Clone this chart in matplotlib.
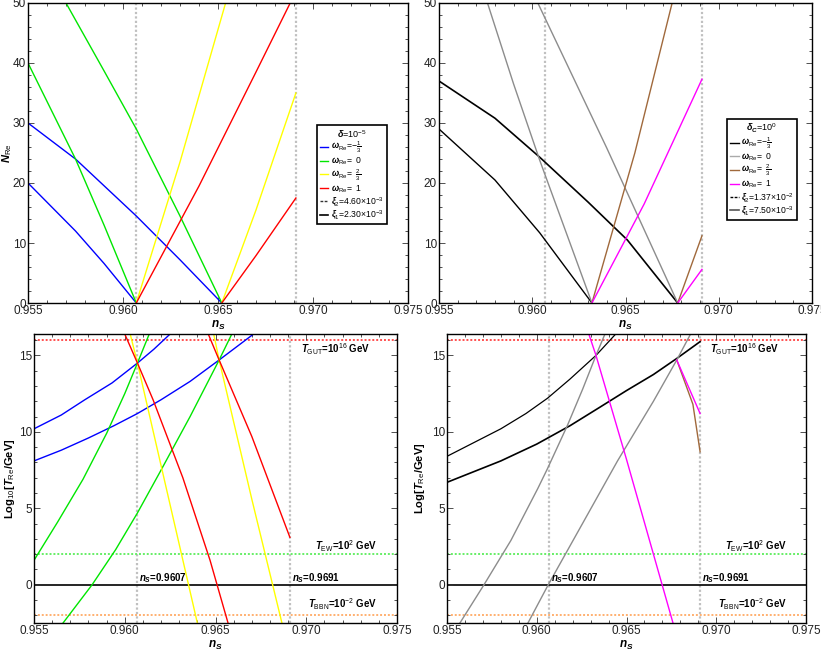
import matplotlib
matplotlib.use("Agg")
import matplotlib.pyplot as plt
from matplotlib.lines import Line2D
from matplotlib.ticker import MultipleLocator, FixedLocator

plt.rcParams['font.family'] = ['Liberation Sans', 'DejaVu Sans']
plt.rcParams['mathtext.fontset'] = 'custom'
plt.rcParams['mathtext.rm'] = 'Liberation Sans'
plt.rcParams['mathtext.it'] = 'Liberation Sans:italic:bold'
plt.rcParams['mathtext.bf'] = 'Liberation Sans:bold'

# ---------------- data ----------------
ns_lines = [0.9607, 0.9691]

# top-left: N_Re, delta = 1e-5
tl_blue1_x = [0.9550, 0.9575, 0.9607, 0.9630, 0.9652]
tl_blue1_y = [30.0, 24.0, 14.5, 7.2, 0.0]
tl_blue2_x = [0.9550, 0.9575, 0.9590, 0.9607]
tl_blue2_y = [20.0, 12.0, 6.6, 0.0]
tl_green1_x = [0.9550, 0.9575, 0.9590, 0.9607]
tl_green1_y = [40.0, 24.0, 13.0, 0.0]
tl_green2_x = [0.9570, 0.9590, 0.9607, 0.9630, 0.9652]
tl_green2_y = [50.0, 38.7, 29.0, 14.5, 0.0]
tl_yellow1_x = [0.9607, 0.9630, 0.9654]
tl_yellow1_y = [0.0, 23.5, 50.0]
tl_yellow2_x = [0.9652, 0.9670, 0.9691]
tl_yellow2_y = [0.0, 15.5, 35.0]
tl_red1_x = [0.9607, 0.9640, 0.9670, 0.9688]
tl_red1_y = [0.0, 19.5, 38.5, 50.0]
tl_red2_x = [0.9652, 0.9670, 0.9691]
tl_red2_y = [0.0, 7.9, 17.5]

# top-right: N_Re, delta_C = 1
tr_black1_x = [0.9550, 0.9580, 0.9604, 0.9630, 0.9651, 0.9678]
tr_black1_y = [37.0, 30.8, 24.3, 16.8, 10.5, 0.0]
tr_black2_x = [0.9550, 0.9580, 0.9604, 0.9632]
tr_black2_y = [29.0, 20.5, 11.7, 0.0]
tr_gray1_x = [0.9603, 0.9640, 0.9678]
tr_gray1_y = [50.0, 25.8, 0.0]
tr_gray2_x = [0.9576, 0.9590, 0.9604, 0.9632]
tr_gray2_y = [50.0, 36.5, 23.8, 0.0]
tr_brown1_x = [0.9632, 0.9655, 0.9675]
tr_brown1_y = [0.0, 25.0, 50.0]
tr_brown2_x = [0.9678, 0.9691]
tr_brown2_y = [0.0, 11.2]
tr_magenta1_x = [0.9632, 0.9660, 0.9691]
tr_magenta1_y = [0.0, 16.5, 37.3]
tr_magenta2_x = [0.9678, 0.9691]
tr_magenta2_y = [0.0, 5.6]

# bottom-left: log10 T_Re
bl_blue1_x = [0.9550, 0.9565, 0.9578, 0.9593, 0.9607, 0.9616, 0.9625]
bl_blue1_y = [10.2, 11.1, 12.1, 13.2, 14.5, 15.4, 16.4]
bl_blue2_x = [0.9550, 0.9565, 0.9580, 0.9594, 0.9607, 0.9620, 0.9636, 0.9652, 0.9671]
bl_blue2_y = [8.1, 8.8, 9.6, 10.4, 11.2, 12.1, 13.3, 14.7, 16.4]
bl_green1_x = [0.9550, 0.9563, 0.9577, 0.9590, 0.9600, 0.9607, 0.96135]
bl_green1_y = [1.6, 4.1, 6.9, 9.9, 12.5, 14.5, 16.4]
bl_green2_x = [0.9566, 0.9582, 0.9595, 0.9607, 0.9620, 0.9636, 0.9652, 0.9659]
bl_green2_y = [-2.5, 0.0, 2.3, 4.7, 7.5, 11.0, 14.7, 16.4]
bl_yellow1_x = [0.9603, 0.9607, 0.9620, 0.9640]
bl_yellow1_y = [16.4, 14.5, 7.8, -2.5]
bl_yellow2_x = [0.9649, 0.9652, 0.9670, 0.96866]
bl_yellow2_y = [16.4, 14.7, 5.6, -2.5]
bl_red1_x = [0.9600, 0.9607, 0.96156, 0.9632, 0.9647, 0.96569]
bl_red1_y = [16.4, 14.5, 12.1, 7.0, 1.6, -2.5]
bl_red2_x = [0.9646, 0.9652, 0.9670, 0.9691]
bl_red2_y = [16.4, 14.7, 9.7, 3.1]

# bottom-right: log T_Re
br_black1_x = [0.9550, 0.9565, 0.9580, 0.9594, 0.9606, 0.96185, 0.9633, 0.9644]
br_black1_y = [8.4, 9.3, 10.2, 11.2, 12.2, 13.45, 15.0, 16.4]
br_black2_x = [0.9550, 0.9565, 0.9580, 0.9600, 0.96185, 0.9635, 0.9650, 0.9665, 0.9678, 0.9691]
br_black2_y = [6.7, 7.4, 8.1, 9.2, 10.4, 11.6, 12.7, 13.75, 14.8, 15.9]
br_gray1_x = [0.95572, 0.95706, 0.95856, 0.96006, 0.9606, 0.9617, 0.96256, 0.9633, 0.9638]
br_gray1_y = [-2.5, 0.0, 2.9, 6.3, 7.6, 10.4, 12.8, 15.0, 16.4]
br_gray2_x = [0.95951, 0.96064, 0.9625, 0.9645, 0.9665, 0.9678, 0.96857]
br_gray2_y = [-2.5, 0.0, 3.9, 8.1, 12.0, 14.7, 16.4]
br_brown2_x = [0.9678, 0.9687, 0.9691]
br_brown2_y = [14.7, 11.8, 8.7]
br_magenta1_x = [0.9629, 0.9633, 0.9650, 0.96759]
br_magenta1_y = [16.4, 15.0, 8.2, -2.5]
br_magenta2_x = [0.9678, 0.9691]
br_magenta2_y = [14.7, 11.2]

omega_labels = [r'$\omega_{\rm Re}$=$-\frac{1}{3}$', r'$\omega_{\rm Re}$=  0',
                r'$\omega_{\rm Re}$=  $\frac{2}{3}$', r'$\omega_{\rm Re}$=  1']
xi_left = [r'$\xi_2$=4.60$\times$10$^{-3}$', r'$\xi_1$=2.30$\times$10$^{-3}$']
xi_right = [r'$\xi_2$=1.37$\times$10$^{-2}$', r'$\xi_1$=7.50$\times$10$^{-3}$']

# ---------------- styling ----------------
C_BLUE, C_GREEN, C_YELLOW, C_RED = '#0000ff', '#00e600', '#ffff00', '#ff0000'
C_BLACK, C_GRAY, C_BROWN, C_MAG = '#000000', '#8c8c8c', '#a0693c', '#ff00ff'

fig = plt.figure(figsize=(8.21, 6.53), dpi=100)
W, H = 821, 653
def rect(l, r, t, b):
    return [l / W, 1 - b / H, (r - l) / W, (b - t) / H]

ax_tl = fig.add_axes(rect(28, 408, 3, 303))
ax_tr = fig.add_axes(rect(439, 812, 3, 303))
ax_bl = fig.add_axes(rect(34, 397, 334, 623))
ax_br = fig.add_axes(rect(447, 806, 334, 623))

lw = 1.0

def frame(ax, top):
    ax.set_xlim(0.955, 0.975)
    ax.xaxis.set_major_locator(FixedLocator([0.955, 0.960, 0.965, 0.970, 0.975]))
    ax.xaxis.set_minor_locator(MultipleLocator(0.001))
    ax.set_xticklabels(['0.955', '0.960', '0.965', '0.970', '0.975'])
    if top:
        ax.set_ylim(0, 50)
        ax.yaxis.set_major_locator(MultipleLocator(10))
        ax.yaxis.set_minor_locator(MultipleLocator(2))
    else:
        ax.set_ylim(-2.5, 16.4)
        ax.yaxis.set_major_locator(FixedLocator([0, 5, 10, 15]))
        ax.yaxis.set_minor_locator(MultipleLocator(1))
    ax.tick_params(which='both', direction='in', top=True, right=True, labelsize=8.5,
                   colors='#333333', labelcolor='#222222', width=0.6, pad=1.5)
    ax.tick_params(which='major', length=4)
    ax.tick_params(which='minor', length=2)
    for s in ax.spines.values():
        s.set_linewidth(1.0)
    ax.set_xlabel(r'$n_S$', fontsize=8.5, labelpad=1)
    for x in ns_lines:
        ax.axvline(x, color='#c0c0c0', ls=(0, (1, 1)), lw=1.6, zorder=1)

for ax in (ax_tl, ax_tr, ax_bl, ax_br):
    frame(ax, ax in (ax_tl, ax_tr))

# top-left
ax_tl.plot(tl_blue1_x, tl_blue1_y, color=C_BLUE, lw=lw)
ax_tl.plot(tl_blue2_x, tl_blue2_y, color=C_BLUE, lw=lw)
ax_tl.plot(tl_green1_x, tl_green1_y, color=C_GREEN, lw=lw)
ax_tl.plot(tl_green2_x, tl_green2_y, color=C_GREEN, lw=lw)
ax_tl.plot(tl_yellow1_x, tl_yellow1_y, color=C_YELLOW, lw=lw)
ax_tl.plot(tl_yellow2_x, tl_yellow2_y, color=C_YELLOW, lw=lw)
ax_tl.plot(tl_red1_x, tl_red1_y, color=C_RED, lw=lw)
ax_tl.plot(tl_red2_x, tl_red2_y, color=C_RED, lw=lw)
ax_tl.set_ylabel(r'$N_{\rm Re}$', fontsize=8)
ax_tl.yaxis.set_label_coords(-0.038, 0.5)

# top-right
ax_tr.plot(tr_black1_x, tr_black1_y, color=C_BLACK, lw=1.2)
ax_tr.plot(tr_black2_x, tr_black2_y, color=C_BLACK, lw=1.0)
ax_tr.plot(tr_gray1_x, tr_gray1_y, color=C_GRAY, lw=lw)
ax_tr.plot(tr_gray2_x, tr_gray2_y, color=C_GRAY, lw=lw)
ax_tr.plot(tr_brown1_x, tr_brown1_y, color=C_BROWN, lw=lw)
ax_tr.plot(tr_brown2_x, tr_brown2_y, color=C_BROWN, lw=lw)
ax_tr.plot(tr_magenta1_x, tr_magenta1_y, color=C_MAG, lw=lw)
ax_tr.plot(tr_magenta2_x, tr_magenta2_y, color=C_MAG, lw=lw)

# bottom panels
def hlines(ax):
    ax.axhline(16, color='#ff5050', ls=(0, (1, 1)), lw=1.4, zorder=1)
    ax.axhline(2, color='#66ee66', ls=(0, (1, 1)), lw=1.4, zorder=1)
    ax.axhline(0, color='black', lw=1.2, zorder=1)
    ax.axhline(-2, color='#ffb070', ls=(0, (1, 1)), lw=1.4, zorder=1)
    kw = dict(fontsize=7, fontweight='bold', va='center')
    ax.text(0.9716, 15.4, r'$T_{\rm GUT}$=10$^{16}$ GeV', ha='center', **kw)
    ax.text(0.9722, 2.55, r'$T_{\rm EW}$=10$^{2}$ GeV', ha='center', **kw)
    ax.text(0.9720, -1.25, r'$T_{\rm BBN}$=10$^{-2}$ GeV', ha='center', **kw)
    ax.text(0.9608, 0.45, r'$n_S$=0.9607', ha='left', **kw)
    ax.text(0.9692, 0.45, r'$n_S$=0.9691', ha='left', **kw)

hlines(ax_bl)
hlines(ax_br)

ax_bl.plot(bl_blue1_x, bl_blue1_y, color=C_BLUE, lw=lw)
ax_bl.plot(bl_blue2_x, bl_blue2_y, color=C_BLUE, lw=lw)
ax_bl.plot(bl_green1_x, bl_green1_y, color=C_GREEN, lw=lw)
ax_bl.plot(bl_green2_x, bl_green2_y, color=C_GREEN, lw=lw)
ax_bl.plot(bl_yellow1_x, bl_yellow1_y, color=C_YELLOW, lw=lw)
ax_bl.plot(bl_yellow2_x, bl_yellow2_y, color=C_YELLOW, lw=lw)
ax_bl.plot(bl_red1_x, bl_red1_y, color=C_RED, lw=lw)
ax_bl.plot(bl_red2_x, bl_red2_y, color=C_RED, lw=lw)
ax_bl.set_ylabel(r'Log$_{10}$[$T_{\rm Re}$/GeV]', fontsize=8, fontweight='bold')
ax_bl.yaxis.set_label_coords(-0.047, 0.5)

ax_br.plot(br_black1_x, br_black1_y, color=C_BLACK, lw=0.9)
ax_br.plot(br_black2_x, br_black2_y, color=C_BLACK, lw=1.2)
ax_br.plot(br_gray1_x, br_gray1_y, color=C_GRAY, lw=lw)
ax_br.plot(br_gray2_x, br_gray2_y, color=C_GRAY, lw=lw)
ax_br.plot(br_brown2_x, br_brown2_y, color=C_BROWN, lw=lw)
ax_br.plot(br_magenta1_x, br_magenta1_y, color=C_MAG, lw=lw)
ax_br.plot(br_magenta2_x, br_magenta2_y, color=C_MAG, lw=lw)
ax_br.set_ylabel(r'Log[$T_{\rm Re}$/GeV]', fontsize=8, fontweight='bold')
ax_br.yaxis.set_label_coords(-0.056, 0.5)

# legends
def legend(ax, title, colors, xi_labels, xi_colors, anchor):
    handles = [Line2D([], [], color=c, lw=1.0) for c in colors]
    handles.append(Line2D([], [], color=xi_colors[0], lw=1.0, ls=(0, (2, 1))))
    handles.append(Line2D([], [], color=xi_colors[1], lw=1.2))
    leg = ax.legend(handles, omega_labels + xi_labels, title=title, loc='upper left',
                    bbox_to_anchor=anchor, fontsize=6.2, title_fontsize=6.5,
                    handlelength=1.0, handletextpad=0.3, labelspacing=0.05,
                    borderpad=0.35, borderaxespad=0, fancybox=False, framealpha=1,
                    edgecolor='black')
    leg.get_frame().set_linewidth(1.2)

legend(ax_tl, r'$\delta$=10$^{-5}$', [C_BLUE, C_GREEN, C_YELLOW, C_RED], xi_left,
       ['#333333', 'black'], (0.76, 0.593))
legend(ax_tr, r'$\delta_C$=10$^{0}$', [C_BLACK, '#aaaaaa', C_BROWN, C_MAG], xi_right,
       ['black', '#555555'], (0.772, 0.613))

fig.savefig('out.png', dpi=100)
